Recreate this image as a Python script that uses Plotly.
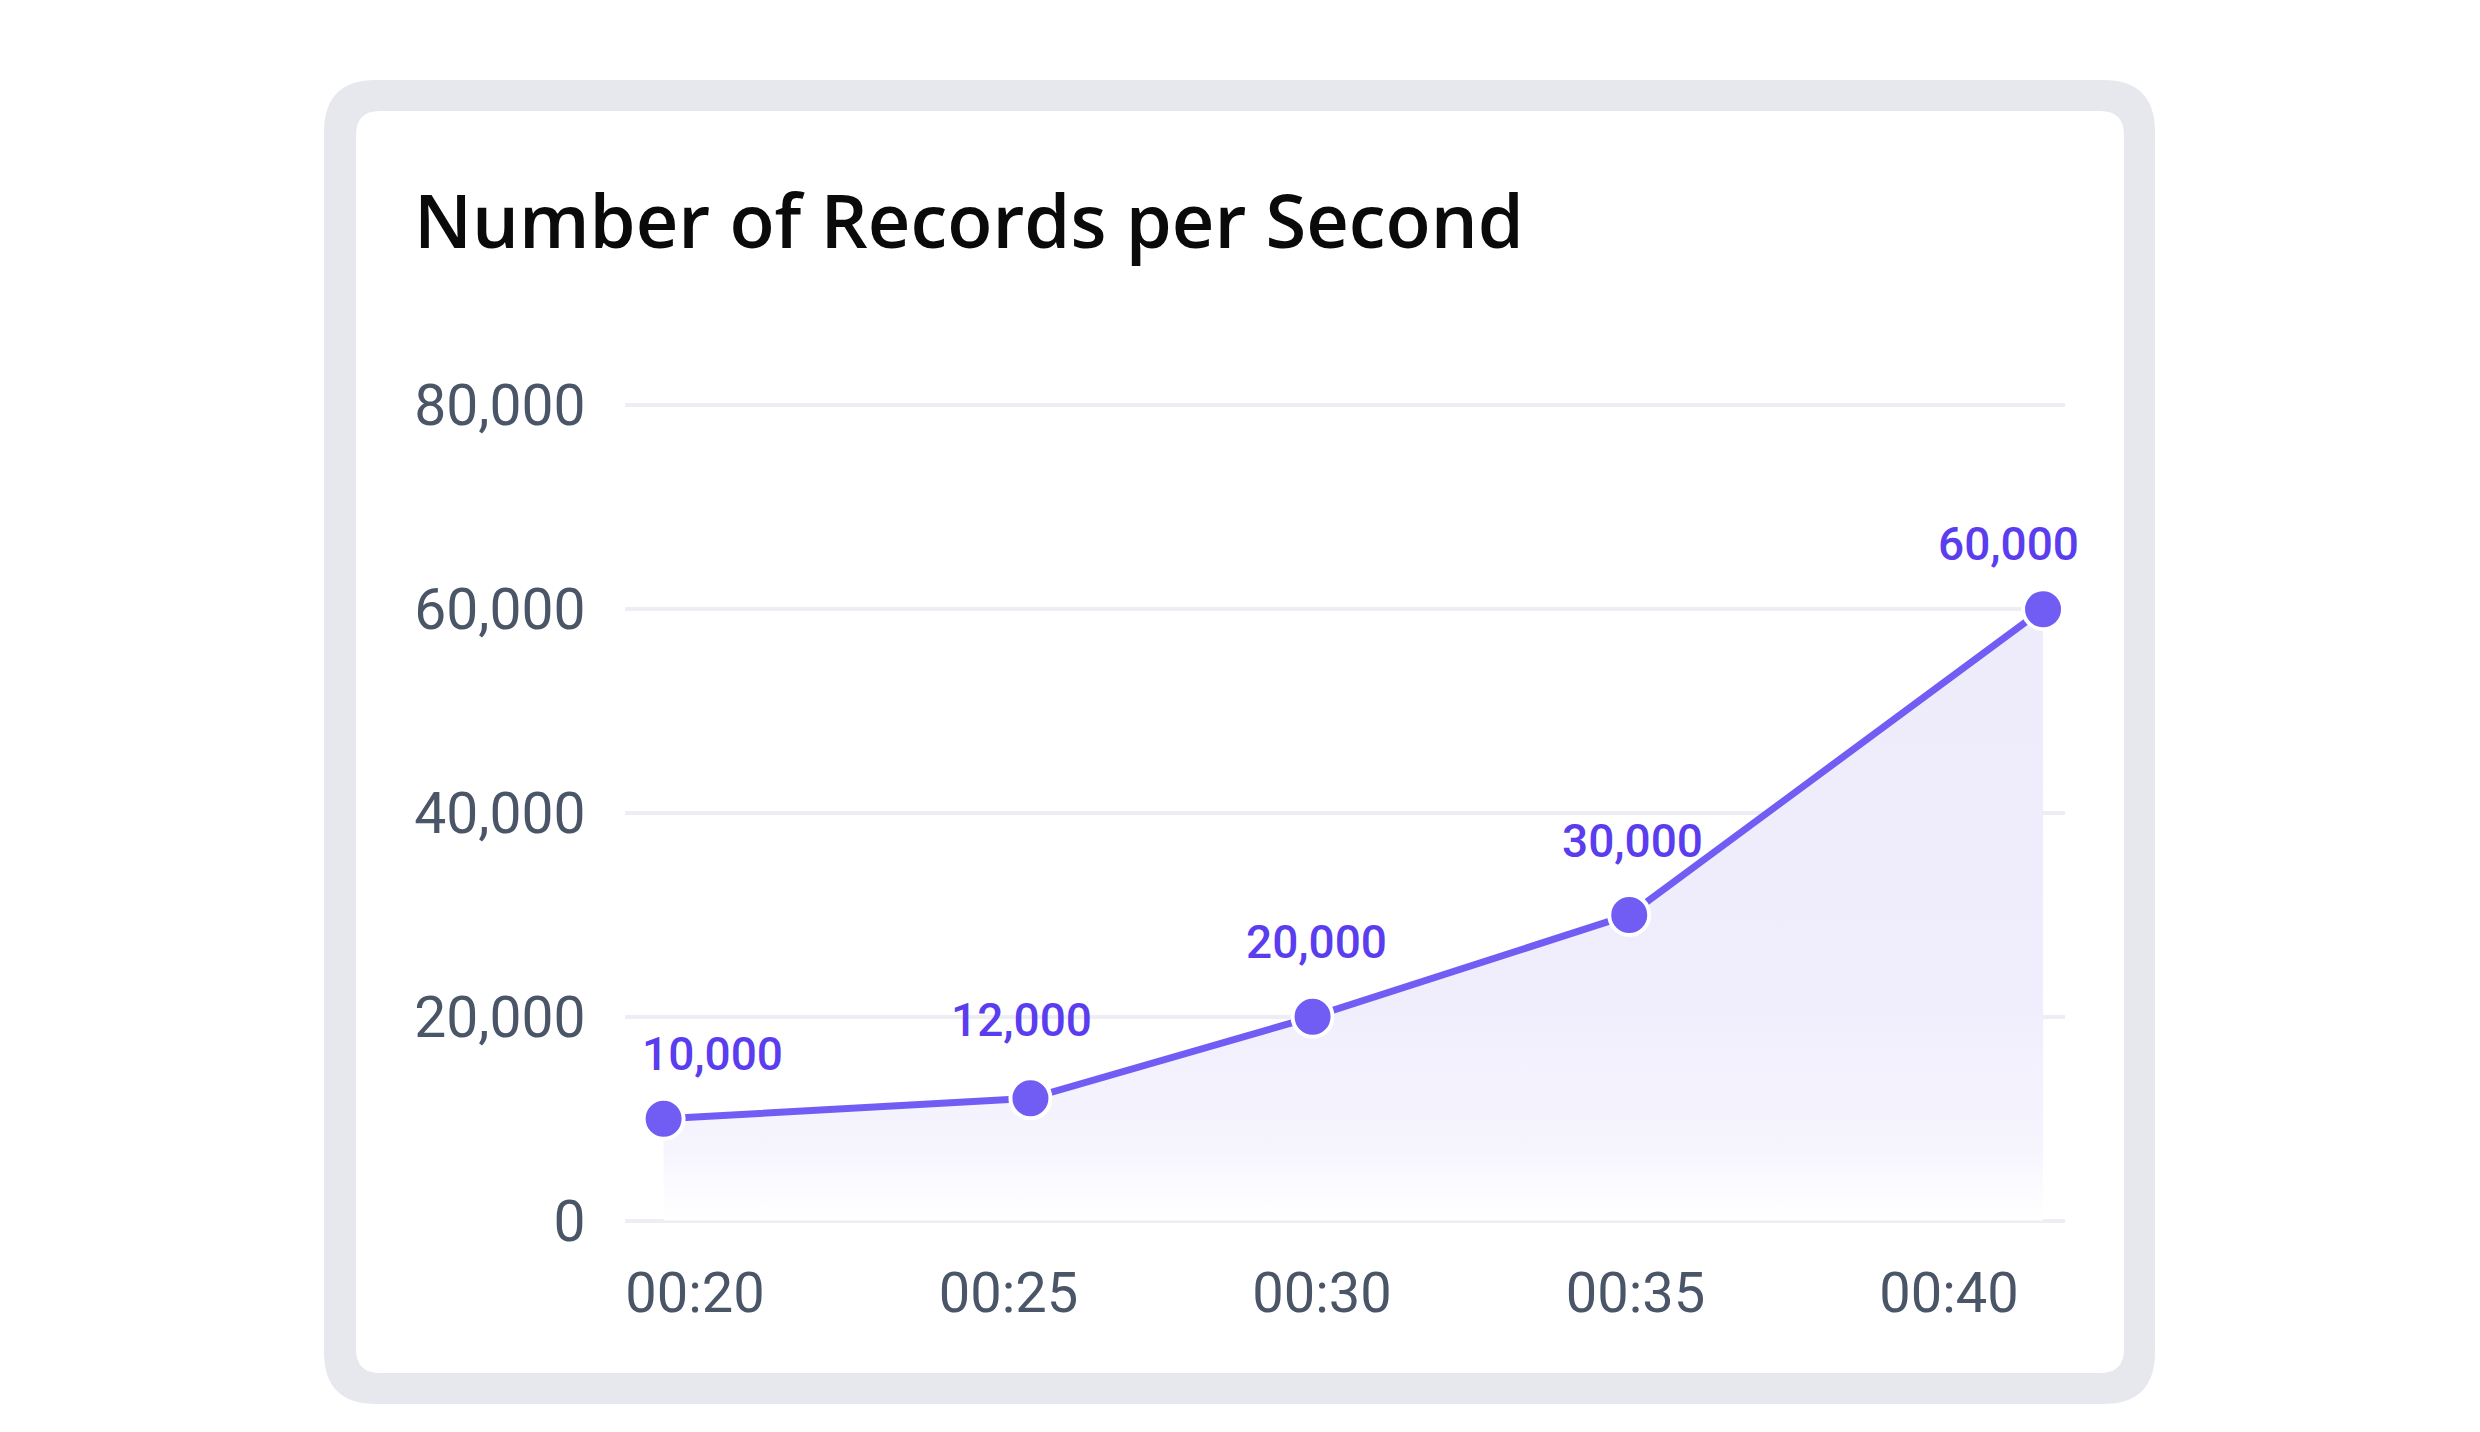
import plotly.graph_objects as go

# ---------------- data ----------------
tick_minutes = [20, 25, 30, 35, 40]
tick_labels = ["00:20", "00:25", "00:30", "00:35", "00:40"]
point_minutes = [19.5, 25.35, 29.85, 34.9, 41.5]
records = [10000, 12000, 20000, 30000, 60000]
record_labels = ["10,000", "12,000", "20,000", "30,000", "60,000"]
y_ticks = [0, 20000, 40000, 60000, 80000]
y_tick_labels = ["0", "20,000", "40,000", "60,000", "80,000"]
title_text = "Number of Records per Second"

# label offsets (pixels) – style only
label_dx = [49, -9, 4, 3, -35]
label_dy = [36, 49, 46, 45, 36]

# ---------------- layout geometry (screen pixels) ----------------
OFF = 8                      # default body margin of the html page
W, H = 2480 - 2 * OFF, 1432 - 2 * OFF
L, R, T, B = 625 - OFF, 2065 - OFF, 385 - OFF, 1241 - OFF


def to_paper(px, py):
    px -= OFF
    py -= OFF
    return (px - L) / (R - L), (B - py) / (B - T)


def rounded_path(x0, y0, x1, y1, r):
    pts = [
        ("M", [(x0 + r, y0)]),
        ("L", [(x1 - r, y0)]),
        ("Q", [(x1, y0), (x1, y0 + r)]),
        ("L", [(x1, y1 - r)]),
        ("Q", [(x1, y1), (x1 - r, y1)]),
        ("L", [(x0 + r, y1)]),
        ("Q", [(x0, y1), (x0, y1 - r)]),
        ("L", [(x0, y0 + r)]),
        ("Q", [(x0, y0), (x0 + r, y0)]),
    ]
    s = ""
    for cmd, ps in pts:
        s += cmd + " " + " ".join("%.6f,%.6f" % to_paper(a, b) for a, b in ps) + " "
    return s + "Z"


LINE = "#715DF3"
LABEL = "#5A3DEE"
TICK = "#4A5568"
GRID = "#EDEDF3"

fig = go.Figure()
fig.add_trace(go.Scatter(
    x=point_minutes, y=records,
    mode="lines+markers",
    line=dict(color=LINE, width=7),
    marker=dict(size=40, color=LINE, line=dict(color="white", width=4)),
    fill="tozeroy",
    fillgradient=dict(
        type="vertical",
        start=0, stop=60000,
        colorscale=[[0, "rgba(255,255,255,1)"], [0.12, "#F6F5FE"],
                    [0.35, "#F0EEFC"], [1, "#EEECFB"]],
    ),
    hoverinfo="skip",
    showlegend=False,
))

annotations = []
for xv, yv, t, dx, dy in zip(point_minutes, records, record_labels, label_dx, label_dy):
    annotations.append(dict(
        x=xv, y=yv, xref="x", yref="y", text=t, showarrow=False,
        xanchor="center", yanchor="bottom", xshift=dx, yshift=dy,
        font=dict(family="Roboto", size=46, color=LABEL, weight=500),
    ))

shapes = [
    dict(type="path", xref="paper", yref="paper", layer="below",
         path=rounded_path(324, 80, 2155, 1404, 52),
         fillcolor="#E7E8ED", line=dict(width=0)),
    dict(type="path", xref="paper", yref="paper", layer="below",
         path=rounded_path(356, 111, 2124, 1373, 24),
         fillcolor="#FFFFFF", line=dict(width=0)),
]

fig.update_layout(
    width=W, height=H,
    margin=dict(l=L, r=W - R, t=T, b=H - B, pad=0),
    paper_bgcolor="white",
    plot_bgcolor="rgba(0,0,0,0)",
    title=dict(
        text=title_text, xref="container", yref="container",
        x=(414 - OFF) / W, xanchor="left", y=1 - (222 - OFF) / H, yanchor="middle",
        font=dict(family="Open Sans", size=74, color="#0A0A0A", weight=600),
    ),
    xaxis=dict(
        range=[18.884, 41.85],
        tickmode="array", tickvals=tick_minutes, ticktext=tick_labels,
        showgrid=False, zeroline=False, showline=False,
        ticks="outside", ticklen=3, tickcolor="rgba(0,0,0,0)",
        tickfont=dict(family="Roboto", size=56, color=TICK),
        fixedrange=True,
    ),
    yaxis=dict(
        range=[-2000, 82000],
        tickmode="array", tickvals=y_ticks, ticktext=y_tick_labels,
        showgrid=True, gridcolor=GRID, gridwidth=4,
        zeroline=False, showline=False,
        ticks="outside", ticklen=27, tickcolor="rgba(0,0,0,0)",
        tickfont=dict(family="Roboto", size=57, color=TICK),
        fixedrange=True,
    ),
    annotations=annotations,
    shapes=shapes,
)

fig.write_html("out.html")
